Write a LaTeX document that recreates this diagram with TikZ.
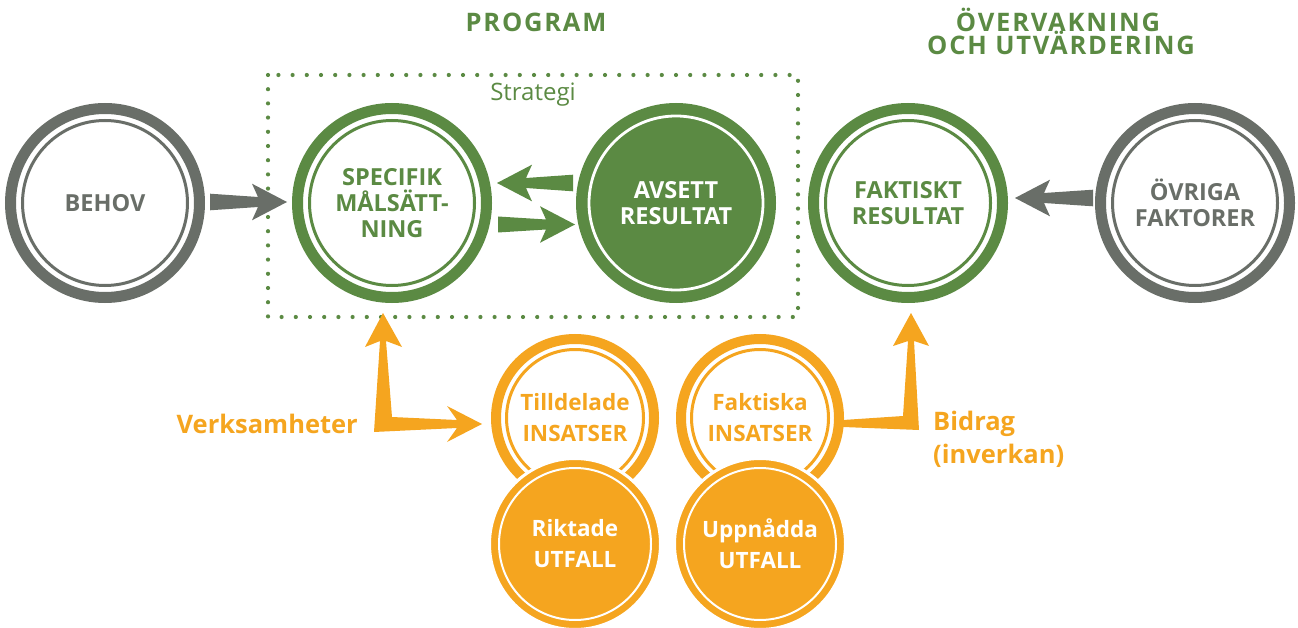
\documentclass[tikz,border=0pt]{standalone}
\usepackage{fontspec}
\setmainfont{Open Sans}
\newfontfamily\trackfont[LetterSpace=7]{Open Sans}
\usetikzlibrary{calc}
\definecolor{grn}{HTML}{5B8A43}
\definecolor{gry}{HTML}{696E68}
\definecolor{org}{HTML}{F5A51F}
% tapered wedge arrow: colour, start, end, start half width, end half width
\newcommand\wedgearr[5]{%
  \coordinate (wN) at ($(#3)!29pt!(#2)$);
  \coordinate (wB) at ($(#3)!35pt!(#2)$);
  \fill[#1] ($(#2)!#4!90:(#3)$) -- ($(wN)!#5!90:(#3)$) -- ($(wB)!18.3pt!90:(#3)$) -- (#3)
     -- ($(wB)!18.3pt!-90:(#3)$) -- ($(wN)!#5!-90:(#3)$) -- ($(#2)!#4!-90:(#3)$) -- cycle;
}
\tikzset{
  bignode/.style={circle, minimum size=200pt, inner sep=0pt, outer sep=0pt, fill=white,
    align=center, font=\bfseries\fontsize{23.5}{26}\selectfont},
  smallnode/.style={circle, minimum size=168pt, inner sep=0pt, outer sep=0pt,
    align=center, font=\bfseries\fontsize{22.5}{31}\selectfont},
  outerring/.style={line width=11pt},
  innerring/.style={line width=3pt},
  titletext/.style={text=grn, font=\trackfont\bfseries\fontsize{25.5}{25}\selectfont, inner sep=0pt},
  labeltext/.style={text=org, font=\bfseries\fontsize{25.5}{32}\selectfont, inner sep=0pt},
}
\begin{document}
\begin{tikzpicture}[x=1pt,y=-1pt]
\useasboundingbox (0,0) rectangle (1298,628);

% titles
\node[titletext, anchor=base] (prog) at (536,32) {PROGRAM};
\node[titletext, anchor=base] (over1) at (1058,32) {ÖVERVAKNING};
\node[titletext, anchor=base] (over2) at (1061,55) {OCH UTVÄRDERING};

% strategy box
\draw[grn, line width=4.2pt, line cap=round, dash pattern=on 0pt off 14.2pt] (268,75) rectangle (798,317);
\node[text=grn, font=\fontsize{24}{24}\selectfont, anchor=base, inner sep=0pt] (strategi) at (533,101) {Strategi};

% big circles
\node[bignode, text=gry] (behov) at (105,203) {BEHOV};
\draw[gry, outerring] (behov.center) circle[radius=94.5pt];
\draw[gry, innerring] (behov.center) circle[radius=82.5pt];

\node[bignode, text=grn] (spec) at (392,203) {SPECIFIK\\MÅLSÄTT-\\NING};
\draw[grn, outerring] (spec.center) circle[radius=94.5pt];
\draw[grn, innerring] (spec.center) circle[radius=82.5pt];

\node[bignode, fill=grn, text=white, text depth=0pt] (avs) at (676,203) {AVSETT\\RESULTAT};
\draw[white, line width=2.8pt] (avs.center) circle[radius=87pt];

\node[bignode, text=grn] (fakt) at (908,203) {FAKTISKT\\RESULTAT};
\draw[grn, outerring] (fakt.center) circle[radius=94.5pt];
\draw[grn, innerring] (fakt.center) circle[radius=82.5pt];

\node[bignode, text=gry] (ovr) at (1195,203) {ÖVRIGA\\FAKTORER};
\draw[gry, outerring] (ovr.center) circle[radius=94.5pt];
\draw[gry, innerring] (ovr.center) circle[radius=82.5pt];

% wedge arrows
\coordinate (a1s) at ($(behov.east)+(5,-1)$);
\coordinate (a1e) at ($(spec.west)+(-5,-1)$);
\wedgearr{gry}{a1s}{a1e}{8.3pt}{5pt}
\coordinate (a2s) at ($(avs.west)+(-3,-20)$);
\coordinate (a2e) at ($(spec.east)+(5,-20)$);
\wedgearr{grn}{a2s}{a2e}{8.3pt}{5pt}
\coordinate (a3s) at ($(spec.east)+(6,21.5)$);
\coordinate (a3e) at ($(avs.west)+(-1,21.5)$);
\wedgearr{grn}{a3s}{a3e}{8pt}{5pt}
\coordinate (a4s) at ($(ovr.west)+(-2,-5)$);
\coordinate (a4e) at ($(fakt.east)+(7,-5)$);
\wedgearr{gry}{a4s}{a4e}{8.3pt}{5pt}

% orange circles
\node[smallnode, fill=white, text=org] (til) at (575,418) {Tilldelade\\INSATSER};
\draw[org, line width=10pt] (til.center) circle[radius=79pt];
\draw[org, line width=3pt] (til.center) circle[radius=68.5pt];
\node[smallnode, minimum size=171pt, fill=org, draw=white, line width=3pt, text=white] (rik) at (575,544) {Riktade\\UTFALL};
\draw[white, line width=2pt] (rik.center) circle[radius=76pt];

\node[smallnode, fill=white, text=org] (fakti) at (760,418) {Faktiska\\INSATSER};
\draw[org, line width=10pt] (fakti.center) circle[radius=79pt];
\draw[org, line width=3pt] (fakti.center) circle[radius=68.5pt];
\node[smallnode, minimum size=171pt, fill=org, draw=white, line width=3pt, text=white] (uppn) at (760,544) {Uppnådda\\UTFALL};
\draw[white, line width=2pt] (uppn.center) circle[radius=76pt];

% orange L arrows
\coordinate (vtip) at (383,313);
\coordinate (vcorner) at (374,432);
\coordinate (htip) at ($(til.west)+(-9,6)$);
\fill[org] (vtip) -- (402,347) -- (386,341) -- (392,417) -- (457,420) -- (447,406) -- (htip)
  -- (447,442) -- (457,428) -- (vcorner) -- (380,341) -- (365,347) -- cycle;

\coordinate (bstart) at ($(fakti.east)+(-1,0)$);
\coordinate (btip) at (911,313);
\fill[org] ($(bstart)+(0,2)$) -- (903,416) -- (908,341) -- (893,346) -- (btip) -- (929,346)
  -- (914,341) -- (919,430) -- ($(bstart)+(0,9)$) -- cycle;

% labels
\node[labeltext, anchor=base east] (verk) at (358,433) {Verksamheter};
\node[labeltext, anchor=base west] (bid) at (933,430) {Bidrag};
\node[labeltext, anchor=base west] (inv) at (933,463) {(inverkan)};
\end{tikzpicture}
\end{document}
